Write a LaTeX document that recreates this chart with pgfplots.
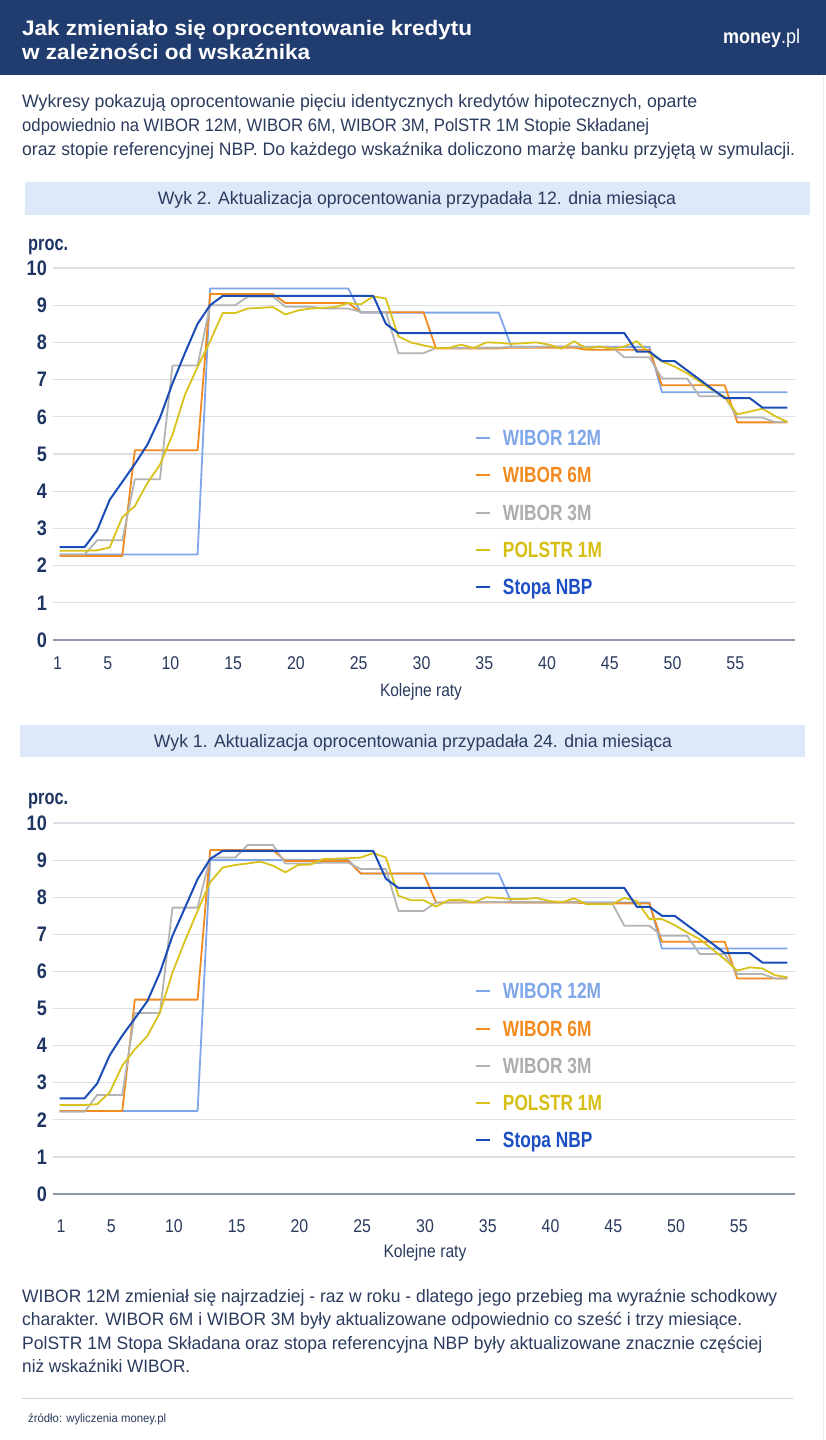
\documentclass[border=0pt]{standalone}
\usepackage{fontspec}
\setmainfont{Liberation Sans}[FakeStretch=0.86]
\usepackage{graphicx}
\usepackage{pgfplots}
\usepackage{pgfplotstable}
\pgfplotsset{compat=1.18}

\definecolor{navy}{HTML}{213D6F}
\definecolor{ink}{HTML}{2B3B5E}
\definecolor{tickc}{HTML}{1E3563}
\definecolor{band}{HTML}{DDE8F8}
\definecolor{gridc}{HTML}{DCDFE6}
\definecolor{basec}{HTML}{8E97AC}
\definecolor{sepc}{HTML}{C9D0DC}
\definecolor{cW12}{HTML}{7FA6E8}
\definecolor{cW6}{HTML}{F28A1E}
\definecolor{cW3}{HTML}{B3B3B3}
\definecolor{cPOL}{HTML}{D9C21B}
\definecolor{cNBP}{HTML}{1B4DB8}
\definecolor{tNBP}{HTML}{1C4FC4}
\definecolor{tPOL}{HTML}{D6BE12}
\definecolor{tW3}{HTML}{ADADAD}

% stretch a line of text to a given width
\newcommand\fitw[2]{\resizebox{#1}{\height}{#2}}
% narrower legend labels
\newcommand\leg[1]{\scalebox{0.915}[1]{#1}}

% n  w12  w6  w3  pol  nbp  -- rates for payment day 12
\pgfplotstableread{
n w12 w6 w3 pol nbp
1 2.30 2.26 2.30 2.40 2.50
2 2.30 2.26 2.30 2.40 2.50
3 2.30 2.26 2.30 2.40 2.50
4 2.30 2.26 2.68 2.41 2.95
5 2.30 2.26 2.68 2.49 3.77
6 2.30 2.26 2.68 3.30 4.25
7 2.30 5.10 4.32 3.60 4.73
8 2.30 5.10 4.32 4.22 5.25
9 2.30 5.10 4.32 4.71 5.97
10 2.30 5.10 7.38 5.52 6.90
11 2.30 5.10 7.38 6.60 7.72
12 2.30 5.10 7.38 7.34 8.50
13 9.45 9.30 9.00 8.03 9.00
14 9.45 9.30 9.00 8.79 9.25
15 9.45 9.30 9.00 8.79 9.25
16 9.45 9.30 9.23 8.91 9.25
17 9.45 9.30 9.23 8.93 9.25
18 9.45 9.30 9.23 8.95 9.25
19 9.45 9.06 8.96 8.75 9.25
20 9.45 9.06 8.96 8.86 9.25
21 9.45 9.06 8.96 8.91 9.25
22 9.45 9.06 8.91 8.93 9.25
23 9.45 9.06 8.91 8.95 9.25
24 9.45 9.06 8.91 9.06 9.25
25 8.80 8.81 8.82 9.02 9.25
26 8.80 8.81 8.82 9.24 9.25
27 8.80 8.81 8.82 9.18 8.50
28 8.80 8.81 7.71 8.16 8.25
29 8.80 8.81 7.71 8.00 8.25
30 8.80 8.81 7.71 7.92 8.25
31 8.80 7.84 7.85 7.85 8.25
32 8.80 7.84 7.85 7.85 8.25
33 8.80 7.84 7.85 7.94 8.25
34 8.80 7.84 7.86 7.85 8.25
35 8.80 7.84 7.86 8.00 8.25
36 8.80 7.84 7.86 7.99 8.25
37 7.88 7.86 7.88 7.96 8.25
38 7.88 7.86 7.88 7.98 8.25
39 7.88 7.86 7.88 8.00 8.25
40 7.88 7.86 7.89 7.94 8.25
41 7.88 7.86 7.89 7.83 8.25
42 7.88 7.86 7.89 8.03 8.25
43 7.88 7.80 7.88 7.83 8.25
44 7.88 7.80 7.88 7.89 8.25
45 7.88 7.80 7.88 7.83 8.25
46 7.88 7.80 7.60 7.89 8.25
47 7.88 7.80 7.60 8.03 7.75
48 7.88 7.80 7.60 7.71 7.75
49 6.66 6.85 7.03 7.49 7.50
50 6.66 6.85 7.03 7.35 7.50
51 6.66 6.85 7.03 7.17 7.25
52 6.66 6.85 6.55 6.95 7.00
53 6.66 6.85 6.55 6.72 6.75
54 6.66 6.85 6.55 6.54 6.50
55 6.66 5.85 5.98 6.07 6.50
56 6.66 5.85 5.98 6.14 6.50
57 6.66 5.85 5.98 6.22 6.25
58 6.66 5.85 5.86 6.02 6.25
59 6.66 5.85 5.86 5.86 6.25
}\tabA

% rates for payment day 24
\pgfplotstableread{
n w12 w6 w3 pol nbp
1 2.24 2.24 2.22 2.40 2.58
2 2.24 2.24 2.22 2.40 2.58
3 2.24 2.24 2.22 2.40 2.58
4 2.24 2.24 2.67 2.42 2.98
5 2.24 2.24 2.67 2.74 3.74
6 2.24 2.24 2.67 3.46 4.27
7 2.24 5.24 4.88 3.90 4.73
8 2.24 5.24 4.88 4.26 5.20
9 2.24 5.24 4.88 4.89 5.97
10 2.24 5.24 7.72 5.97 6.96
11 2.24 5.24 7.72 6.83 7.72
12 2.24 5.24 7.72 7.63 8.49
13 9.00 9.27 9.07 8.40 9.03
14 9.00 9.27 9.07 8.80 9.25
15 9.00 9.27 9.07 8.87 9.25
16 9.00 9.27 9.41 8.91 9.25
17 9.00 9.27 9.41 8.96 9.25
18 9.00 9.27 9.41 8.85 9.25
19 9.00 8.98 8.91 8.67 9.25
20 9.00 8.98 8.91 8.87 9.25
21 9.00 8.98 8.91 8.88 9.25
22 9.00 8.98 8.93 9.03 9.25
23 9.00 8.98 8.93 9.04 9.25
24 9.00 8.98 8.93 9.05 9.25
25 8.64 8.64 8.76 9.07 9.25
26 8.64 8.64 8.76 9.19 9.25
27 8.64 8.64 8.76 9.07 8.50
28 8.64 8.64 7.63 8.04 8.25
29 8.64 8.64 7.63 7.92 8.25
30 8.64 8.64 7.63 7.92 8.25
31 8.64 7.86 7.86 7.75 8.25
32 8.64 7.86 7.86 7.92 8.25
33 8.64 7.86 7.86 7.93 8.25
34 8.64 7.86 7.87 7.86 8.25
35 8.64 7.86 7.87 8.00 8.25
36 8.64 7.86 7.87 7.98 8.25
37 7.86 7.86 7.88 7.95 8.25
38 7.86 7.86 7.88 7.95 8.25
39 7.86 7.86 7.88 7.98 8.25
40 7.86 7.86 7.88 7.90 8.25
41 7.86 7.86 7.88 7.86 8.25
42 7.86 7.86 7.88 7.97 8.25
43 7.86 7.83 7.86 7.81 8.25
44 7.86 7.83 7.86 7.81 8.25
45 7.86 7.83 7.86 7.81 8.25
46 7.86 7.83 7.23 7.98 8.25
47 7.86 7.83 7.23 7.90 7.74
48 7.86 7.83 7.23 7.41 7.74
49 6.62 6.80 6.96 7.41 7.50
50 6.62 6.80 6.96 7.25 7.50
51 6.62 6.80 6.96 7.05 7.25
52 6.62 6.80 6.47 6.87 7.00
53 6.62 6.80 6.47 6.60 6.75
54 6.62 6.80 6.47 6.33 6.49
55 6.62 5.81 5.93 6.02 6.49
56 6.62 5.81 5.93 6.11 6.49
57 6.62 5.81 5.93 6.08 6.24
58 6.62 5.81 5.81 5.90 6.24
59 6.62 5.81 5.81 5.84 6.24
}\tabB

\pgfplotsset{
  ratechart/.style={
    scale only axis, width=742pt,
    xmin=0.48, xmax=59.6, ymin=0, ymax=10,
    axis line style={draw=none}, major tick length=0pt,
    ytick={0,1,...,10}, xtick={1,5,10,15,20,25,30,35,40,45,50,55},
    ymajorgrids, major grid style={draw=gridc, line width=1.2pt},
    /pgf/number format/assume math mode=true,
    yticklabel style={font=\bfseries\fontsize{21}{21}\selectfont, text=tickc,
      anchor=east, inner sep=0pt, xshift=-6pt},
    xticklabel style={font=\fontsize{18.5}{18.5}\selectfont, text=ink,
      anchor=base, inner sep=0pt},
    every axis plot/.append style={line width=1.8pt, line join=round, mark=none},
    legend cell align=left,
    legend image code/.code={
      \path[draw=none] (0pt,0pt) -- (0pt,16pt);
      \draw[#1, line width=2pt] (0pt,2pt) -- (14pt,2pt);},
    legend style={anchor=north west, draw=none, fill=none,
      inner sep=0pt, outer sep=0pt, row sep=10.7pt, column sep=12pt,
      font=\bfseries\fontsize{22}{22}\selectfont,
      nodes={inner sep=0pt, outer sep=0pt, text height=16pt, text depth=5pt}},
  }
}

\newcommand\rateplots[1]{%
  \addplot[cW12] table[x=n, y=w12] {#1};
  \addlegendentry[text=cW12]{\leg{WIBOR 12M}}
  \addplot[cW6] table[x=n, y=w6] {#1};
  \addlegendentry[text=cW6]{\leg{WIBOR 6M}}
  \addplot[cW3] table[x=n, y=w3] {#1};
  \addlegendentry[text=tW3]{\leg{WIBOR 3M}}
  \addplot[cPOL] table[x=n, y=pol] {#1};
  \addlegendentry[text=tPOL]{\leg{POLSTR 1M}}
  \addplot[cNBP, line width=2pt] table[x=n, y=nbp] {#1};
  \addlegendentry[text=tNBP]{\leg{Stopa NBP}}
  \draw[basec, line width=2.2pt] (rel axis cs:0,0) -- (rel axis cs:1,0);
}

\begin{document}
\begin{tikzpicture}
\useasboundingbox (0pt,0pt) rectangle (826pt,-1440pt);
\fill[white] (0pt,0pt) rectangle (826pt,-1440pt);
\draw[gray!15, line width=1pt] (823.5pt,-75pt) -- (823.5pt,-1440pt);

% header
\fill[navy] (0pt,0pt) rectangle (826pt,-75pt);
\begin{scope}[every node/.style={anchor=base west, inner sep=0pt, text=white,
    font=\bfseries\fontsize{21}{21}\selectfont}]
  \node at (22pt,-35pt) {\fitw{450pt}{Jak zmieniało się oprocentowanie kredytu}};
  \node at (22pt,-59pt) {\fitw{288pt}{w zależności od wskaźnika}};
\end{scope}
\node[anchor=base west, inner sep=0pt, text=white, font=\fontsize{20}{20}\selectfont]
  at (723pt,-43pt) {\fitw{77pt}{\textbf{money}.pl}};

% introduction
\begin{scope}[every node/.style={anchor=base west, inner sep=0pt, text=ink,
    font=\fontsize{18}{18}\selectfont}]
  \node at (22pt,-107pt) {\fitw{675pt}{Wykresy pokazują oprocentowanie pięciu identycznych kredytów hipotecznych, oparte}};
  \node at (22pt,-131pt) {\fitw{627pt}{odpowiednio na WIBOR 12M, WIBOR 6M, WIBOR 3M, PolSTR 1M Stopie Składanej}};
  \node at (22pt,-155pt) {\fitw{773pt}{oraz stopie referencyjnej NBP. Do każdego wskaźnika doliczono marżę banku przyjętą w symulacji.}};
\end{scope}

% chart headers
\fill[band] (25pt,-182pt) rectangle (810pt,-215pt);
\node[anchor=base, inner sep=0pt, text=ink, font=\fontsize{18}{18}\selectfont]
  at (417pt,-204pt) {\fitw{518pt}{Wyk 2. Aktualizacja oprocentowania przypadała 12. dnia miesiąca}};
\fill[band] (20pt,-725pt) rectangle (805pt,-757pt);
\node[anchor=base, inner sep=0pt, text=ink, font=\fontsize{18}{18}\selectfont]
  at (413pt,-747pt) {\fitw{518pt}{Wyk 1. Aktualizacja oprocentowania przypadała 24. dnia miesiąca}};

% axis titles
\begin{scope}[every node/.style={inner sep=0pt, text=tickc}]
  \node[anchor=base west, font=\bfseries\fontsize{21}{21}\selectfont] at (28pt,-250pt) {\fitw{40pt}{proc.}};
  \node[anchor=base west, font=\bfseries\fontsize{21}{21}\selectfont] at (28pt,-804pt) {\fitw{40pt}{proc.}};
  \node[anchor=base, text=ink, font=\fontsize{18}{18}\selectfont] at (421pt,-696pt) {\fitw{82pt}{Kolejne raty}};
  \node[anchor=base, text=ink, font=\fontsize{18}{18}\selectfont] at (425pt,-1257pt) {\fitw{83pt}{Kolejne raty}};
\end{scope}

% chart: payment day 12
\begin{axis}[ratechart, at={(53pt,-640pt)}, anchor=south west, height=372pt,
    xticklabel style={yshift=-29.5pt, xshift=-2pt},
    legend style={at={(rel axis cs:0.5687,0.580)}}]
  \rateplots{\tabA}
\end{axis}

% chart: payment day 24
\begin{axis}[ratechart, at={(53pt,-1194pt)}, anchor=south west, height=371pt,
    xticklabel style={yshift=-38.5pt, xshift=1.5pt},
    legend style={at={(rel axis cs:0.5687,0.584)}}]
  \rateplots{\tabB}
\end{axis}

% closing note
\begin{scope}[every node/.style={anchor=base west, inner sep=0pt, text=ink,
    font=\fontsize{18}{18}\selectfont}]
  \node at (22pt,-1302pt) {\fitw{755pt}{WIBOR 12M zmieniał się najrzadziej - raz w roku - dlatego jego przebieg ma wyraźnie schodkowy}};
  \node at (22pt,-1325pt) {\fitw{720pt}{charakter. WIBOR 6M i WIBOR 3M były aktualizowane odpowiednio co sześć i trzy miesiące.}};
  \node at (22pt,-1349pt) {\fitw{740pt}{PolSTR 1M Stopa Składana oraz stopa referencyjna NBP były aktualizowane znacznie częściej}};
  \node at (22pt,-1372pt) {\fitw{168pt}{niż wskaźniki WIBOR.}};
\end{scope}
\draw[sepc, line width=1pt] (22pt,-1398pt) -- (793pt,-1398pt);
\node[anchor=base west, inner sep=0pt, text=ink, font=\fontsize{12}{12}\selectfont]
  at (28pt,-1422pt) {\fitw{138pt}{źródło: wyliczenia money.pl}};
\end{tikzpicture}
\end{document}
